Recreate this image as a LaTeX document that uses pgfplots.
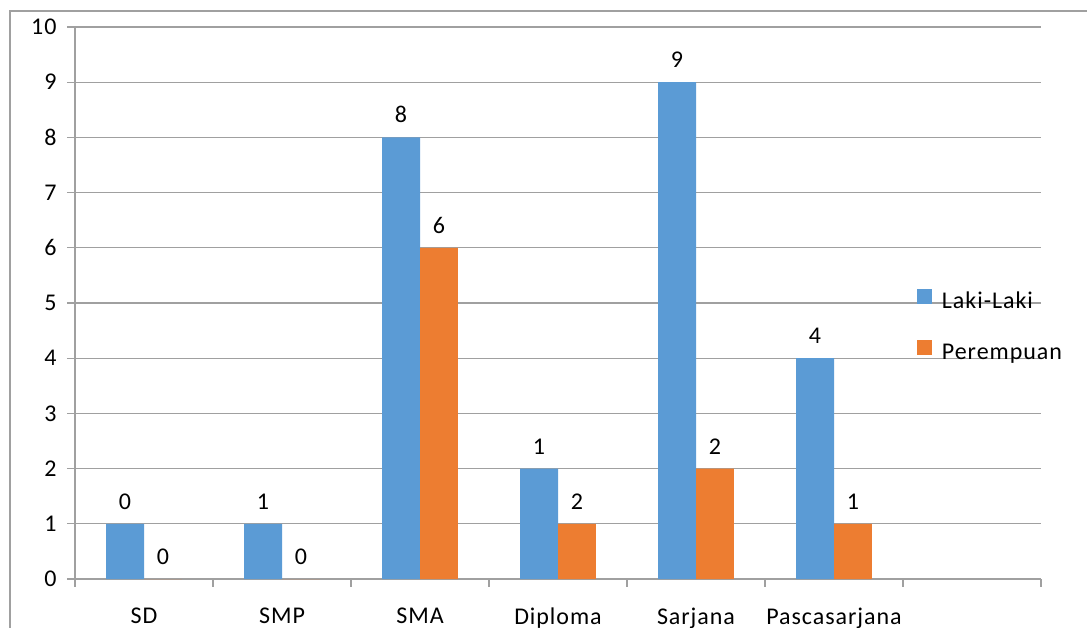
\documentclass[border=0pt]{standalone}
\usepackage{fontspec}
\setmainfont{Carlito}[LetterSpace=4]
\usepackage{pgfplots}
\pgfplotsset{compat=1.18}

\definecolor{laki}{HTML}{5B9BD5}
\definecolor{perempuan}{HTML}{ED7D31}
\definecolor{garis}{HTML}{A0A0A0}

\begin{document}
\begin{tikzpicture}
  % crop of the chart area: 1087 x 628 px, axis box at (75,49)
  \useasboundingbox (-75bp,-49bp) rectangle (1012bp,579bp);
  \clip (-75bp,-49bp) rectangle (1012bp,579bp);
  \draw[garis, line width=1.3bp] (-65bp,-100bp) rectangle (1100bp,568bp);
  \begin{axis}[
    at={(0,0)}, anchor=south west,
    scale only axis, width=966bp, height=552bp,
    ybar, bar width=0.275,
    xmin=-0.5, xmax=6.5,
    ymin=0, ymax=10,
    xtick={-0.5,0.5,...,6.5},
    x tick label as interval,
    xticklabels={SD,SMP,SMA,Diploma,Sarjana,Pascasarjana,{}},
    ytick={0,1,...,10},
    axis x line*=bottom,
    axis y line*=left,
    axis line style={garis, line width=1.3bp},
    tick style={garis, line width=1.3bp},
    tick align=outside,
    major tick length=8bp,
    ymajorgrids,
    major grid style={garis, line width=1.3bp},
    /pgf/number format/assume math mode=true,
    tick label style={font=\fontsize{24bp}{28bp}\selectfont},
    yticklabel style={xshift=-7bp},
    xticklabel style={yshift=-17bp},
    point meta=explicit symbolic,
    nodes near coords,
    every node near coord/.append style={font=\fontsize{24bp}{28bp}\selectfont, anchor=base, yshift=14.5bp, black},
    legend style={
      at={(0.8716,0.5254)}, anchor=north west,
      draw=none, fill=none, inner sep=0pt, outer sep=0pt,
      row sep=27bp,
      font=\fontsize{24bp}{28bp}\selectfont,
      nodes={inner sep=0pt, text height=16bp, text depth=5bp},
      /tikz/every even column/.append style={yshift=4bp},
    },
    legend cell align=left,
  ]
    \addplot[fill=laki, draw=none, bar shift=-0.1375,
      legend image code/.code={\fill[laki] (0bp,3bp) rectangle (15bp,18bp); \path (25bp,0bp);}]
      coordinates {(0,1)[0] (1,1)[1] (2,8)[8] (3,2)[1] (4,9)[9] (5,4)[4]};
    \addlegendentry{Laki-Laki}
    \addplot[fill=perempuan, draw=none, bar shift=0.1375,
      legend image code/.code={\fill[perempuan] (0bp,3bp) rectangle (15bp,18bp); \path (25bp,0bp);}]
      coordinates {(0,0)[0] (1,0)[0] (2,6)[6] (3,1)[2] (4,2)[2] (5,1)[1]};
    \addlegendentry{Perempuan}
  \end{axis}
\end{tikzpicture}
\end{document}
